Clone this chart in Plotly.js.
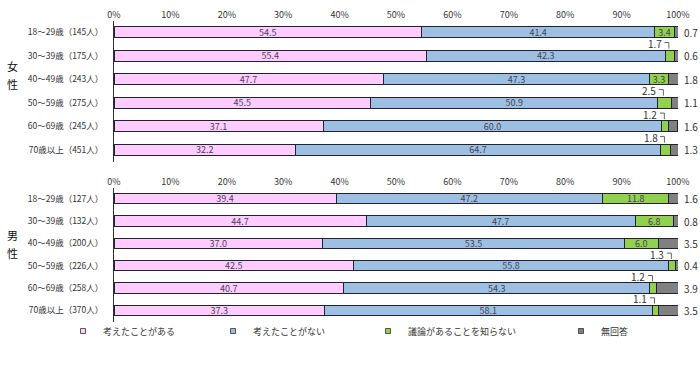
<!DOCTYPE html>
<html><head><meta charset="utf-8">
<script src="https://cdn.plot.ly/plotly-3.0.1.min.js"></script>
<style>html,body{margin:0;padding:0;background:#fff}</style>
</head><body><div id="chart" style="width:700px;height:368px"></div>
<script>
const seriesNames = ['考えたことがある','考えたことがない','議論があることを知らない','無回答'];
const colors = ['#FFCCFF','#9DC0E2','#92D050','#808080'];
const femaleCats = ['18～29歳（145人）','30～39歳（175人）','40～49歳（243人）','50～59歳（275人）','60～69歳（245人）','70歳以上（451人）'];
const maleCats = ['18～29歳（127人）','30～39歳（132人）','40～49歳（200人）','50～59歳（226人）','60～69歳（258人）','70歳以上（370人）'];
const fThought   = [54.5, 55.4, 47.7, 45.5, 37.1, 32.2];
const fNever     = [41.4, 42.3, 47.3, 50.9, 60.0, 64.7];
const fUnaware   = [3.4, 1.7, 3.3, 2.5, 1.2, 1.8];
const fNoAnswer  = [0.7, 0.6, 1.8, 1.1, 1.6, 1.3];
const mThought   = [39.4, 44.7, 37.0, 42.5, 40.7, 37.3];
const mNever     = [47.2, 47.7, 53.5, 55.8, 54.3, 58.1];
const mUnaware   = [11.8, 6.8, 6.0, 1.3, 1.2, 1.1];
const mNoAnswer  = [1.6, 0.8, 3.5, 0.4, 3.9, 3.5];
const xTicks = [0,10,20,30,40,50,60,70,80,90,100];

const FONT = '"Noto Sans CJK JP", "Noto Sans", sans-serif';
const traces = [];
const annotations = [];
const shapes = [];

function panel(cats, series, xa, ya) {
  series.forEach((vals, s) => {
    traces.push({
      type:'bar', orientation:'h', y:cats, x:vals, xaxis:xa, yaxis:ya,
      name:seriesNames[s], showlegend:false,
      marker:{color:colors[s], line:{color:'#222233', width:1}},
      width:0.46,
      text: vals.map(v => (s<2 || (s===2 && v>=3)) ? v.toFixed(1) : ''),
      textposition:'inside', insidetextanchor:'middle', constraintext:'none',
      textangle:0,
      insidetextfont:{family:FONT, size:9, color:'#444455'},
      hoverinfo:'x+y'
    });
  });
  const xref = xa, yref = ya;
  cats.forEach((c, i) => {
    const na = series[3][i];
    annotations.push({xref, yref, x:100, y:i, text:na.toFixed(1), showarrow:false,
      xanchor:'left', xshift:4, font:{family:FONT, size:10, color:'#333'}});
    const g = series[2][i];
    if (g < 3) {
      const start = series[0][i] + series[1][i];
      const ex = start + g*0.4;
      annotations.push({xref, yref, x:ex - 0.9, y:i - 0.52, text:g.toFixed(1), showarrow:false,
        xanchor:'right', font:{family:FONT, size:10, color:'#333'}});
      shapes.push({type:'line', xref, yref, x0:ex-0.8, x1:ex, y0:i-0.56, y1:i-0.56, line:{color:'#666', width:1}});
      shapes.push({type:'line', xref, yref, x0:ex, x1:ex, y0:i-0.56, y1:i-0.3, line:{color:'#666', width:1}});
    }
  });
}
panel(femaleCats, [fThought, fNever, fUnaware, fNoAnswer], 'x', 'y');
panel(maleCats, [mThought, mNever, mUnaware, mNoAnswer], 'x2', 'y2');

// legend-only entries
const legendPos = [95, 245, 400, 593];
seriesNames.forEach((n, s) => {
  traces.push({type:'scatter', mode:'markers', x:[null], y:[null], xaxis:'x', yaxis:'y',
    name:n, showlegend:true, legend: s===0 ? 'legend' : 'legend'+(s+1),
    marker:{symbol:'square', size:5, color:colors[s], line:{color:'#333', width:0.8}}});
});

const xAxisCommon = {range:[0,100], tickvals:xTicks, ticktext:xTicks.map(v=>v+'%'),
  side:'top', showgrid:false, zeroline:false, showline:false, ticks:'',
  tickfont:{family:FONT, size:9, color:'#333'}, fixedrange:true};
const yAxisCommon = {autorange:'reversed', showgrid:false, zeroline:false, showline:true,
  linecolor:'#333', linewidth:1, ticks:'', ticklabelstandoff:8,
  tickfont:{family:FONT, size:8.5, color:'#333'}};

const groupChars = [['女', 66], ['性', 84], ['男', 235], ['性', 253]];
groupChars.forEach(([ch, py]) => {
  annotations.push({xref:'paper', yref:'paper', x:12/700, y:1-py/368, text:ch,
    xanchor:'center', yanchor:'middle',
    showarrow:false, font:{family:FONT, size:11, color:'#111'}});
});

const layout = {
  width:700, height:368, margin:{l:0, r:0, t:0, b:0},
  paper_bgcolor:'#fff', plot_bgcolor:'#fff', barmode:'stack',
  xaxis:Object.assign({}, xAxisCommon, {domain:[114/700, 678/700], anchor:'y'}),
  yaxis:Object.assign({}, yAxisCommon, {domain:[1-161.5/368, 1-20.5/368], anchor:'x'}),
  xaxis2:Object.assign({}, xAxisCommon, {domain:[114/700, 678/700], anchor:'y2'}),
  yaxis2:Object.assign({}, yAxisCommon, {domain:[1-321.5/368, 1-187.5/368], anchor:'x2'}),
  annotations, shapes,
  font:{family:FONT}
};
legendPos.forEach((px, s) => {
  const key = s===0 ? 'legend' : 'legend'+(s+1);
  layout[key] = {x:(px-32)/700, y:1-331/368, xanchor:'left', yanchor:'middle', orientation:'h',
    itemwidth:30, bgcolor:'rgba(0,0,0,0)', font:{family:FONT, size:9, color:'#333'}};
});
Plotly.newPlot('chart', traces, layout, {displayModeBar:false, staticPlot:true});
</script></body></html>
